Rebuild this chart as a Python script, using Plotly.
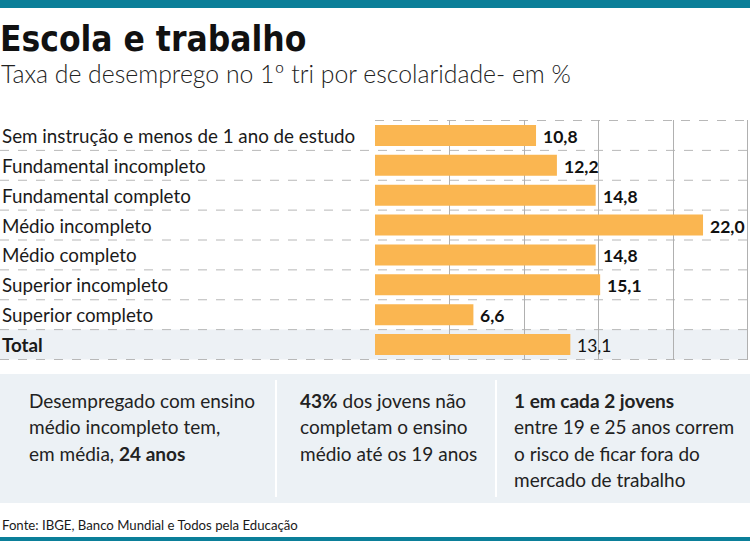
import plotly.graph_objects as go

# Data
categories = [
    "Sem instrução e menos de 1 ano de estudo",
    "Fundamental incompleto",
    "Fundamental completo",
    "Médio incompleto",
    "Médio completo",
    "Superior incompleto",
    "Superior completo",
    "Total",
]
values = [10.8, 12.2, 14.8, 22.0, 14.8, 15.1, 6.6, 13.1]
x_ticks = [0, 5, 10, 15, 20, 25]

title = "Escola e trabalho"
subtitle = "Taxa de desemprego no 1º tri por escolaridade- em %"
notes = [
    ["Desempregado com ensino", "médio incompleto tem,", "em média, <b>24 anos</b>"],
    ["<b>43%</b> dos jovens não", "completam o ensino", "médio até os 19 anos"],
    ["<b>1 em cada 2 jovens</b>", "entre 19 e 25 anos correm", "o risco de ficar fora do",
     "mercado de trabalho"],
]
source = "Fonte: IBGE, Banco Mundial e Todos pela Educação"

W, H = 755, 541
TEAL = "#0b7f99"
BAR = "#fab651"
LATO = "Lato, Open Sans, sans-serif"
CONDENSED = "DejaVu Sans Condensed, DejaVu Sans, sans-serif"


def px(v):
    return v / W


def py(v):
    return 1 - v / H


fig = go.Figure()
fig.add_trace(go.Bar(
    y=categories, x=values, orientation="h",
    marker=dict(color=BAR, line=dict(width=0)),
    width=0.7, hoverinfo="skip",
))

shapes = []
# teal bands top and bottom
shapes.append(dict(type="rect", xref="paper", yref="paper", x0=0, x1=px(750),
                   y0=py(8), y1=1, fillcolor=TEAL, line=dict(width=0)))
shapes.append(dict(type="rect", xref="paper", yref="paper", x0=0, x1=px(750),
                   y0=0, y1=py(537), fillcolor=TEAL, line=dict(width=0)))
# total row background
shapes.append(dict(type="rect", xref="paper", yref="y", x0=0, x1=px(747),
                   y0=len(categories) - 1.5, y1=len(categories) - 0.5,
                   fillcolor="#edf1f5", line=dict(width=0), layer="below"))
# dashed row separators
for i in range(len(categories) + 1):
    x0 = px(375) if i == 0 else 0
    shapes.append(dict(type="line", xref="paper", yref="y", x0=x0, x1=px(747),
                       y0=i - 0.5, y1=i - 0.5,
                       line=dict(color="#b8b8b8", width=1, dash="dash"), layer="below"))
# notes box
shapes.append(dict(type="rect", xref="paper", yref="paper", x0=0, x1=px(750),
                   y0=py(503), y1=py(374), fillcolor="#ecf1f5", line=dict(width=0)))
for sx in [276, 496]:
    shapes.append(dict(type="line", xref="paper", yref="paper", x0=px(sx), x1=px(sx),
                       y0=py(497), y1=py(380), line=dict(color="#ffffff", width=2)))

annotations = []
annotations.append(dict(text=f"<b>{title}</b>", xref="paper", yref="paper", x=px(-2), y=py(39),
                        xanchor="left", yanchor="middle", showarrow=False,
                        font=dict(family=CONDENSED, size=35, color="#111111")))
annotations.append(dict(text=subtitle, xref="paper", yref="paper", x=px(-1), y=py(74),
                        xanchor="left", yanchor="middle", showarrow=False,
                        font=dict(family=LATO, size=24.8, weight=300, color="#222222")))

for cat, v in zip(categories, values):
    is_total = cat == "Total"
    label = f"<b>{cat}</b>" if is_total else cat
    annotations.append(dict(text=label, xref="paper", yref="y", x=0, y=cat,
                            xanchor="left", yanchor="middle", showarrow=False,
                            font=dict(family=LATO, size=18.8, color="#1a1a1a")))
    num = f"{v:.1f}".replace(".", ",")
    annotations.append(dict(text=num if is_total else f"<b>{num}</b>",
                            xref="x", yref="y", x=v, y=cat, xshift=5, yshift=-1,
                            xanchor="left", yanchor="middle", showarrow=False,
                            font=dict(family=LATO, size=17.5, color="#111111")))

for nx, lines in zip([27, 298, 512], notes):
    for k, line in enumerate(lines):
        annotations.append(dict(text=line, xref="paper", yref="paper", x=px(nx),
                                y=py(400 + 26.5 * k),
                                xanchor="left", yanchor="middle", align="left", showarrow=False,
                                font=dict(family=LATO, size=19, color="#222222")))

annotations.append(dict(text=source, xref="paper", yref="paper", x=0, y=py(525),
                        xanchor="left", yanchor="middle", showarrow=False,
                        font=dict(family=LATO, size=13.2, color="#1a1a1a")))

fig.update_layout(
    width=W, height=H,
    margin=dict(l=0, r=0, t=0, b=0),
    paper_bgcolor="white", plot_bgcolor="rgba(0,0,0,0)",
    showlegend=False,
    xaxis=dict(domain=[px(375), px(750)], range=[0, 25.15], tickvals=x_ticks,
               showticklabels=False, showgrid=True, gridcolor="#b0b0b0", gridwidth=1,
               zeroline=False, showline=False, fixedrange=True),
    yaxis=dict(domain=[py(360), py(120)], categoryorder="array", categoryarray=categories,
               autorange="reversed", showticklabels=False, showgrid=False,
               zeroline=False, fixedrange=True),
    shapes=shapes,
    annotations=annotations,
    bargap=0.3,
)

fig.write_html("out.html", config={"displayModeBar": False},
               post_script="document.body.style.margin = '0';")
